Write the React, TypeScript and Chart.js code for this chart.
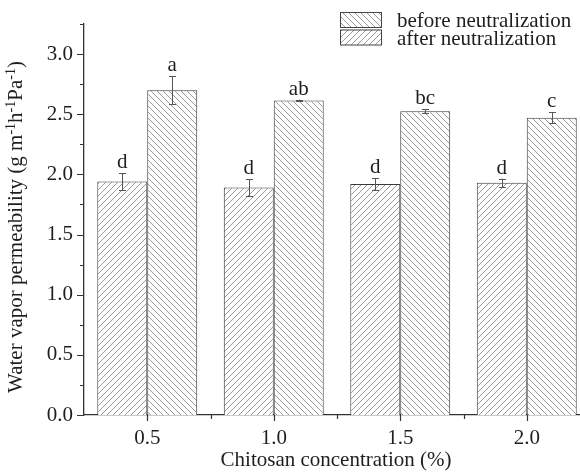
import React, { useEffect, useRef } from 'react';
import { Chart, registerables } from 'chart.js';

Chart.register(...registerables);

const categories = ['0.5', '1.0', '1.5', '2.0'];
const seriesLabels = ['before neutralization', 'after neutralization'];
const beforeValues = [1.94, 1.89, 1.92, 1.93];
const beforeErrors = [0.07, 0.07, 0.05, 0.035];
const afterValues = [2.7, 2.615, 2.525, 2.47];
const afterErrors = [0.115, 0.006, 0.015, 0.045];
const beforeLetters = ['d', 'd', 'd', 'd'];
const afterLetters = ['a', 'ab', 'bc', 'c'];
const yMin = 0;
const yMax = 3.25;
const yMinorStep = 0.25;
const yMajorStep = 0.5;
const xTitle = 'Chitosan concentration (%)';
const yTitleParts: [string, boolean][] = [
  ['Water vapor permeability (g m', false],
  ['-1', true],
  ['h', false],
  ['-1', true],
  ['Pa', false],
  ['-1', true],
  [')', false],
];

const FAMILY = '"Liberation Serif", "Times New Roman", serif';
const FS = 21;
const YT = 21;
const AXIS = '#333333';
const TEXT = '#1e1e1e';

function hatch(dir: 'fwd' | 'back', color = '#9a9a9a', size = 6) {
  const c = document.createElement('canvas');
  c.width = size;
  c.height = size;
  const g = c.getContext('2d')!;
  g.fillStyle = '#ffffff';
  g.fillRect(0, 0, size, size);
  g.strokeStyle = color;
  g.lineWidth = 1;
  g.beginPath();
  if (dir === 'fwd') {
    g.moveTo(0, size); g.lineTo(size, 0);
    g.moveTo(-1, 1); g.lineTo(1, -1);
    g.moveTo(size - 1, size + 1); g.lineTo(size + 1, size - 1);
  } else {
    g.moveTo(0, 0); g.lineTo(size, size);
    g.moveTo(-1, size - 1); g.lineTo(1, size + 1);
    g.moveTo(size - 1, -1); g.lineTo(size + 1, 1);
  }
  g.stroke();
  return g.createPattern(c, 'repeat')!;
}

export default function App() {
  const ref = useRef<HTMLCanvasElement | null>(null);

  useEffect(() => {
    document.documentElement.style.overflow = 'hidden';
    document.body.style.overflow = 'hidden';
    const canvas = ref.current!;
    const fwd = hatch('fwd');
    const back = hatch('back');
    const errors = [beforeErrors, afterErrors];
    const letters = [beforeLetters, afterLetters];

    const extras = {
      id: 'extras',
      afterDatasetsDraw(chart: any) {
        const ctx = chart.ctx;
        const y = chart.scales.y;
        ctx.save();
        chart.data.datasets.forEach((ds: any, di: number) => {
          const meta = chart.getDatasetMeta(di);
          meta.data.forEach((el: any, i: number) => {
            const v = ds.data[i];
            const e = errors[di][i];
            const top = y.getPixelForValue(v + e);
            const bot = y.getPixelForValue(v - e);
            const x = Math.round(el.x) + 0.5;
            ctx.strokeStyle = '#555555';
            ctx.lineWidth = 1;
            ctx.beginPath();
            ctx.moveTo(x, top); ctx.lineTo(x, bot);
            ctx.moveTo(x - 3.5, Math.round(top) + 0.5); ctx.lineTo(x + 3.5, Math.round(top) + 0.5);
            ctx.moveTo(x - 3.5, Math.round(bot) + 0.5); ctx.lineTo(x + 3.5, Math.round(bot) + 0.5);
            ctx.stroke();
            ctx.fillStyle = TEXT;
            ctx.font = `${FS}px ${FAMILY}`;
            ctx.textAlign = 'center';
            ctx.textBaseline = 'alphabetic';
            ctx.fillText(letters[di][i], el.x, top - 5);
          });
        });
        ctx.restore();
      },
      afterDraw(chart: any) {
        const ctx = chart.ctx;
        const { left, bottom } = chart.chartArea;
        const x = chart.scales.x;
        const y = chart.scales.y;
        ctx.save();
        ctx.strokeStyle = AXIS;
        ctx.lineWidth = 1.2;
        ctx.beginPath();
        for (let v = yMin; v <= yMax + 1e-9; v += yMinorStep) {
          const py = Math.round(y.getPixelForValue(v)) + 0.5;
          const major = Math.abs(v / yMajorStep - Math.round(v / yMajorStep)) < 1e-6;
          const len = major ? 7 : 4;
          ctx.moveTo(left - len, py); ctx.lineTo(left, py);
        }
        for (let i = 0; i < categories.length; i++) {
          const px = Math.round(x.getPixelForValue(i)) + 0.5;
          ctx.moveTo(px, bottom); ctx.lineTo(px, bottom + 6);
          if (i < categories.length - 1) {
            const mx = Math.round((x.getPixelForValue(i) + x.getPixelForValue(i + 1)) / 2) + 0.5;
            ctx.moveTo(mx, bottom); ctx.lineTo(mx, bottom + 4);
          }
        }
        ctx.stroke();

        // x title
        ctx.fillStyle = TEXT;
        ctx.font = `${FS}px ${FAMILY}`;
        ctx.textAlign = 'center';
        ctx.textBaseline = 'alphabetic';
        ctx.fillText(xTitle, 336, 466);

        // y title with superscripts
        const mainFont = `${YT}px ${FAMILY}`;
        const supFont = `${Math.round(YT * 0.65)}px ${FAMILY}`;
        let total = 0;
        yTitleParts.forEach(([t, sup]) => {
          ctx.font = sup ? supFont : mainFont;
          total += ctx.measureText(t).width;
        });
        ctx.translate(22, 227);
        ctx.rotate(-Math.PI / 2);
        let cx = -total / 2;
        ctx.textAlign = 'left';
        yTitleParts.forEach(([t, sup]) => {
          ctx.font = sup ? supFont : mainFont;
          ctx.fillText(t, cx, sup ? -7 : 0);
          cx += ctx.measureText(t).width;
        });
        ctx.setTransform(1, 0, 0, 1, 0, 0);

        // legend
        const legendPatterns = [back, fwd];
        seriesLabels.forEach((lab, i) => {
          const by = 12 + i * 17.5;
          ctx.fillStyle = legendPatterns[i];
          ctx.fillRect(340, by, 42, 15.5);
          ctx.strokeStyle = '#444444';
          ctx.lineWidth = 1;
          ctx.strokeRect(340.5, by + 0.5, 41, 15);
          ctx.fillStyle = TEXT;
          ctx.font = `${FS}px ${FAMILY}`;
          ctx.textAlign = 'left';
          ctx.textBaseline = 'alphabetic';
          ctx.fillText(lab, 397, by + 15);
        });
        ctx.restore();
      },
    };

    const chart = new Chart(canvas, {
      type: 'bar',
      data: {
        labels: categories,
        datasets: [
          {
            label: seriesLabels[0],
            data: beforeValues,
            backgroundColor: fwd,
            borderColor: '#3a3a3a',
            borderWidth: 1,
            categoryPercentage: 0.79,
            barPercentage: 1.0,
          },
          {
            label: seriesLabels[1],
            data: afterValues,
            backgroundColor: back,
            borderColor: '#3a3a3a',
            borderWidth: 1,
            categoryPercentage: 0.79,
            barPercentage: 1.0,
          },
        ],
      },
      options: {
        responsive: false,
        animation: false,
        devicePixelRatio: 1,
        layout: { padding: { top: 24, right: 20, left: 0, bottom: 0 } },
        plugins: { legend: { display: false }, tooltip: { enabled: false } },
        scales: {
          x: {
            type: 'category',
            grid: { display: false, drawTicks: false },
            border: { display: true, color: AXIS, width: 1.3 },
            ticks: { font: { family: FAMILY, size: FS }, color: TEXT, padding: 11 },
            afterFit: (s: any) => { s.height = 58; },
          },
          y: {
            min: yMin,
            max: yMax,
            grid: { display: false, drawTicks: false },
            border: { display: true, color: AXIS, width: 1.3 },
            ticks: {
              stepSize: yMinorStep,
              autoSkip: false,
              font: { family: FAMILY, size: FS },
              color: TEXT,
              padding: 11,
              callback: (v: any) => {
                const n = Number(v);
                return Math.abs(n / yMajorStep - Math.round(n / yMajorStep)) < 1e-6 ? n.toFixed(1) : '';
              },
            },
            afterFit: (s: any) => { s.width = 84; },
          },
        },
      },
      plugins: [extras],
    });
    return () => chart.destroy();
  }, []);

  return (
    <div style={{ position: 'fixed', left: 0, top: 0, width: 610, height: 473, background: '#fff' }}>
      <canvas ref={ref} width={610} height={473} style={{ display: 'block' }} />
    </div>
  );
}
